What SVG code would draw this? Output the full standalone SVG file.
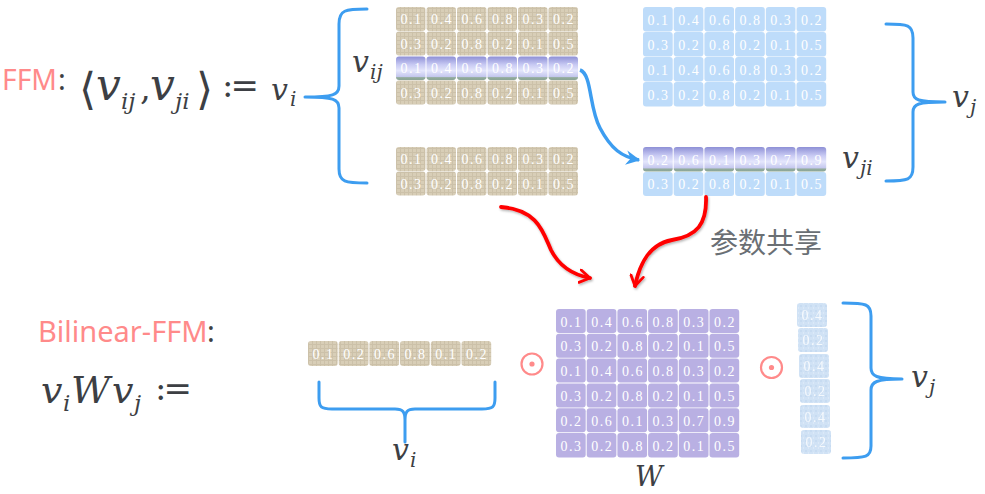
<svg xmlns="http://www.w3.org/2000/svg" width="985" height="494" viewBox="0 0 985 494">
<style>
.t{font-family:"Liberation Serif",serif;font-size:14px;fill:#fff;text-anchor:middle;letter-spacing:1.5px}
.tf{font-family:"Liberation Serif",serif;font-size:14px;fill:#fff;text-anchor:middle;letter-spacing:1.5px;opacity:0.8}
.tan{fill:url(#burlap)}
.lb{fill:#bedcfa}
.pu{fill:#b9b0e3}
.vj{fill:url(#speck)}
.hl{fill:url(#hlg)}
.m{font-family:"DejaVu Serif",serif;font-style:italic;fill:#3d3f44}
.mn{font-family:"DejaVu Serif",serif;fill:#3d3f44}
.ang{font-family:"DejaVu Sans",sans-serif;fill:#3d3f44}
.brace{fill:none;stroke:#3d9df0;stroke-width:3;stroke-linecap:round;stroke-linejoin:round}
.red{fill:none;stroke:#ff0000;stroke-width:3.8;stroke-linecap:round;filter:url(#sh)}
.blue{fill:none;stroke:#3d9df0;stroke-width:3.5}
.odot{fill:none;stroke:#ff8a8a;stroke-width:2.2}
.pink{font-family:"Noto Sans",sans-serif;fill:#ff8a8a}
.dark{font-family:"Noto Sans",sans-serif;fill:#3d3f44}
.dot{fill:#fff}
</style>
<defs>
<pattern id="burlap" width="4" height="4" patternUnits="userSpaceOnUse">
<rect width="4" height="4" fill="#d8ceb7"/>
<path d="M0 0.5H4M0.5 0V4" stroke="#c7bca2" stroke-width="1" opacity="0.7"/>
</pattern>
<pattern id="speck" width="5" height="5" patternUnits="userSpaceOnUse">
<rect width="5" height="5" fill="#d0e2f5"/>
<circle cx="1" cy="1" r="0.8" fill="#bcd3ee"/>
<circle cx="3.5" cy="3" r="0.7" fill="#e2eefa"/>
</pattern>
<linearGradient id="hlg" x1="0" y1="0" x2="0" y2="1">
<stop offset="0" stop-color="#8e90d6"/>
<stop offset="0.35" stop-color="#c8caf3"/>
<stop offset="0.6" stop-color="#e4e6fc"/>
<stop offset="0.85" stop-color="#c5c8ee"/>
<stop offset="0.9" stop-color="#93ab9c"/>
<stop offset="1" stop-color="#8aa596"/>
</linearGradient>
<filter id="sh" x="-20%" y="-20%" width="140%" height="140%">
<feDropShadow dx="1" dy="1.5" stdDeviation="1" flood-color="#000" flood-opacity="0.3"/>
</filter>
<marker id="rh" viewBox="0 0 12 12" refX="9" refY="6" markerWidth="4" markerHeight="4" orient="auto" markerUnits="strokeWidth">
<path d="M1,1 L9,6 L1,11" fill="none" stroke="#ff0000" stroke-width="2.2" stroke-linecap="round" stroke-linejoin="round"/>
</marker>
<marker id="bh" viewBox="0 0 12 12" refX="10" refY="6" markerWidth="4.5" markerHeight="4.5" orient="auto" markerUnits="strokeWidth">
<path d="M0,0.5 L11,6 L0,11.5 L3.5,6 Z" fill="#3d9df0"/>
</marker>
</defs>
<rect width="985" height="494" fill="#fff"/>

<!-- Labels / formulas -->
<g id="ffm-label">
<text class="pink" x="2" y="90" font-size="29" textLength="55" lengthAdjust="spacingAndGlyphs">FFM</text>
<text class="dark" x="58" y="90" font-size="29">:</text>
</g>
<g id="ffm-formula">
<text class="ang" x="79" y="104" font-size="44">⟨</text>
<text class="m" x="96" y="100" font-size="44">v</text>
<text class="m" x="121" y="109" font-size="23">ij</text>
<text class="mn" x="140" y="100" font-size="34">,</text>
<text class="m" x="150" y="100" font-size="44">v</text>
<text class="m" x="175" y="109" font-size="23">ji</text>
<text class="ang" x="196" y="104" font-size="44">⟩</text>
<text class="mn" x="222" y="97" font-size="34" letter-spacing="-3">:=</text>
<text class="m" x="271" y="100" font-size="30">v</text>
<text class="m" x="290" y="106" font-size="20">i</text>
</g>
<g id="bffm-label">
<text class="pink" x="38" y="342" font-size="29">Bilinear-FFM</text>
<text class="dark" x="207" y="342" font-size="29">:</text>
</g>
<g id="bffm-formula">
<text class="m" x="41" y="403" font-size="38">v</text>
<text class="m" x="63" y="411" font-size="23">i</text>
<text class="m" x="71" y="403" font-size="38">W</text>
<text class="m" x="112" y="403" font-size="38">v</text>
<text class="m" x="134" y="411" font-size="23">j</text>
<text class="mn" x="155" y="400" font-size="34" letter-spacing="-3">:=</text>
</g>
<g id="label-vij"><text class="m" x="352" y="72" font-size="30">v</text><text class="m" x="370" y="79" font-size="20">ij</text></g>
<g id="label-vji"><text class="m" x="842" y="168" font-size="30">v</text><text class="m" x="860" y="175" font-size="20">ji</text></g>
<g id="label-vj-top"><text class="m" x="952" y="107" font-size="30">v</text><text class="m" x="970" y="114" font-size="20">j</text></g>
<g id="label-vi-bottom"><text class="m" x="392" y="460" font-size="30">v</text><text class="m" x="410" y="467" font-size="20">i</text></g>
<g id="label-vj-bottom"><text class="m" x="911" y="387" font-size="30">v</text><text class="m" x="929" y="394" font-size="20">j</text></g>
<g id="label-W"><text class="m" x="635" y="486" font-size="27">W</text></g>
<g id="label-share"><text x="710" y="253" font-family="'Noto Sans CJK SC',sans-serif" font-size="28" fill="#6a6f74">参数共享</text></g>

<!-- Braces -->
<g id="braces">
<path class="brace" d="M367,9 C345,9 339,10 339,24 L339,86 C339,95 333,97 305,97 M305,97 C333,97 339,99 339,108 L339,169 C339,182 345,183 367,183"/>
<path class="brace" d="M886,24 C908,24 913,25 913,38 L913,92 C913,100 918,102 945,102 M945,102 C918,102 913,104 913,112 L913,167 C913,180 908,181 886,181"/>
<path class="brace" d="M319,382 L319,398 C319,407 321,409 332,409 L395,409 C403,409 405,412 405,420 L405,442 M405,420 C405,412 407,409 415,409 L482,409 C493,409 495,407 495,398 L495,382"/>
<path class="brace" d="M843,303 C866,303 871,304 871,316 L871,368 C871,376 876,379 902,379 M902,379 C876,379 871,382 871,390 L871,446 C871,457 866,458 843,458"/>
</g>

<!-- Hadamard symbols -->
<g id="odot1"><circle class="odot" cx="532" cy="364" r="10.5"/><circle cx="532" cy="364" r="2.6" fill="#ff8a8a"/></g>
<g id="odot2"><circle class="odot" cx="771.5" cy="367.5" r="10.5"/><circle cx="771.5" cy="367.5" r="2.6" fill="#ff8a8a"/></g>

<!-- Top-left matrix v_i -->
<g id="vi-matrix">
<rect class="tan" x="396" y="7" width="29.5" height="24" rx="3"/><rect class="tan" x="426.5" y="7" width="29.5" height="24" rx="3"/><rect class="tan" x="457" y="7" width="29.5" height="24" rx="3"/><rect class="tan" x="487.5" y="7" width="29.5" height="24" rx="3"/><rect class="tan" x="518" y="7" width="29.5" height="24" rx="3"/><rect class="tan" x="548.5" y="7" width="29.5" height="24" rx="3"/>
<rect class="tan" x="396" y="31.5" width="29.5" height="24" rx="3"/><rect class="tan" x="426.5" y="31.5" width="29.5" height="24" rx="3"/><rect class="tan" x="457" y="31.5" width="29.5" height="24" rx="3"/><rect class="tan" x="487.5" y="31.5" width="29.5" height="24" rx="3"/><rect class="tan" x="518" y="31.5" width="29.5" height="24" rx="3"/><rect class="tan" x="548.5" y="31.5" width="29.5" height="24" rx="3"/>
<rect class="hl" x="396" y="56.5" width="29.5" height="23.5" rx="3"/><rect class="hl" x="426.5" y="56.5" width="29.5" height="23.5" rx="3"/><rect class="hl" x="457" y="56.5" width="29.5" height="23.5" rx="3"/><rect class="hl" x="487.5" y="56.5" width="29.5" height="23.5" rx="3"/><rect class="hl" x="518" y="56.5" width="29.5" height="23.5" rx="3"/><rect class="hl" x="548.5" y="56.5" width="29.5" height="23.5" rx="3"/>
<rect class="tan" x="396" y="80.5" width="29.5" height="24" rx="3"/><rect class="tan" x="426.5" y="80.5" width="29.5" height="24" rx="3"/><rect class="tan" x="457" y="80.5" width="29.5" height="24" rx="3"/><rect class="tan" x="487.5" y="80.5" width="29.5" height="24" rx="3"/><rect class="tan" x="518" y="80.5" width="29.5" height="24" rx="3"/><rect class="tan" x="548.5" y="80.5" width="29.5" height="24" rx="3"/>
<rect class="tan" x="396" y="147" width="29.5" height="24" rx="3"/><rect class="tan" x="426.5" y="147" width="29.5" height="24" rx="3"/><rect class="tan" x="457" y="147" width="29.5" height="24" rx="3"/><rect class="tan" x="487.5" y="147" width="29.5" height="24" rx="3"/><rect class="tan" x="518" y="147" width="29.5" height="24" rx="3"/><rect class="tan" x="548.5" y="147" width="29.5" height="24" rx="3"/>
<rect class="tan" x="396" y="171.5" width="29.5" height="24" rx="3"/><rect class="tan" x="426.5" y="171.5" width="29.5" height="24" rx="3"/><rect class="tan" x="457" y="171.5" width="29.5" height="24" rx="3"/><rect class="tan" x="487.5" y="171.5" width="29.5" height="24" rx="3"/><rect class="tan" x="518" y="171.5" width="29.5" height="24" rx="3"/><rect class="tan" x="548.5" y="171.5" width="29.5" height="24" rx="3"/>
<circle class="dot" cx="426" cy="31.2" r="1.4"/><circle class="dot" cx="456.5" cy="31.2" r="1.4"/><circle class="dot" cx="487" cy="31.2" r="1.4"/><circle class="dot" cx="517.5" cy="31.2" r="1.4"/><circle class="dot" cx="548" cy="31.2" r="1.4"/>
<circle class="dot" cx="426" cy="55.8" r="1.4"/><circle class="dot" cx="456.5" cy="55.8" r="1.4"/><circle class="dot" cx="487" cy="55.8" r="1.4"/><circle class="dot" cx="517.5" cy="55.8" r="1.4"/><circle class="dot" cx="548" cy="55.8" r="1.4"/>
<circle class="dot" cx="426" cy="80.2" r="1.4"/><circle class="dot" cx="456.5" cy="80.2" r="1.4"/><circle class="dot" cx="487" cy="80.2" r="1.4"/><circle class="dot" cx="517.5" cy="80.2" r="1.4"/><circle class="dot" cx="548" cy="80.2" r="1.4"/>
<circle class="dot" cx="426" cy="171.2" r="1.4"/><circle class="dot" cx="456.5" cy="171.2" r="1.4"/><circle class="dot" cx="487" cy="171.2" r="1.4"/><circle class="dot" cx="517.5" cy="171.2" r="1.4"/><circle class="dot" cx="548" cy="171.2" r="1.4"/>
<text class="t" x="411.5" y="24">0.1</text><text class="t" x="442" y="24">0.4</text><text class="t" x="472.5" y="24">0.6</text><text class="t" x="503" y="24">0.8</text><text class="t" x="533.5" y="24">0.3</text><text class="t" x="564" y="24">0.2</text>
<text class="t" x="411.5" y="48.5">0.3</text><text class="t" x="442" y="48.5">0.2</text><text class="t" x="472.5" y="48.5">0.8</text><text class="t" x="503" y="48.5">0.2</text><text class="t" x="533.5" y="48.5">0.1</text><text class="t" x="564" y="48.5">0.5</text>
<text class="t" x="411.5" y="73">0.1</text><text class="t" x="442" y="73">0.4</text><text class="t" x="472.5" y="73">0.6</text><text class="t" x="503" y="73">0.8</text><text class="t" x="533.5" y="73">0.3</text><text class="t" x="564" y="73">0.2</text>
<text class="t" x="411.5" y="97.5">0.3</text><text class="t" x="442" y="97.5">0.2</text><text class="t" x="472.5" y="97.5">0.8</text><text class="t" x="503" y="97.5">0.2</text><text class="t" x="533.5" y="97.5">0.1</text><text class="t" x="564" y="97.5">0.5</text>
<text class="t" x="411.5" y="164">0.1</text><text class="t" x="442" y="164">0.4</text><text class="t" x="472.5" y="164">0.6</text><text class="t" x="503" y="164">0.8</text><text class="t" x="533.5" y="164">0.3</text><text class="t" x="564" y="164">0.2</text>
<text class="t" x="411.5" y="188.5">0.3</text><text class="t" x="442" y="188.5">0.2</text><text class="t" x="472.5" y="188.5">0.8</text><text class="t" x="503" y="188.5">0.2</text><text class="t" x="533.5" y="188.5">0.1</text><text class="t" x="564" y="188.5">0.5</text>
</g>

<!-- Top-right matrix v_j -->
<g id="vj-matrix">
<rect class="lb" x="643" y="7" width="29.7" height="24.5" rx="3"/><rect class="lb" x="673.7" y="7" width="29.7" height="24.5" rx="3"/><rect class="lb" x="704.4" y="7" width="29.7" height="24.5" rx="3"/><rect class="lb" x="735.1" y="7" width="29.7" height="24.5" rx="3"/><rect class="lb" x="765.8" y="7" width="29.7" height="24.5" rx="3"/><rect class="lb" x="796.5" y="7" width="29.7" height="24.5" rx="3"/>
<rect class="lb" x="643" y="32" width="29.7" height="24.5" rx="3"/><rect class="lb" x="673.7" y="32" width="29.7" height="24.5" rx="3"/><rect class="lb" x="704.4" y="32" width="29.7" height="24.5" rx="3"/><rect class="lb" x="735.1" y="32" width="29.7" height="24.5" rx="3"/><rect class="lb" x="765.8" y="32" width="29.7" height="24.5" rx="3"/><rect class="lb" x="796.5" y="32" width="29.7" height="24.5" rx="3"/>
<rect class="lb" x="643" y="57" width="29.7" height="24.5" rx="3"/><rect class="lb" x="673.7" y="57" width="29.7" height="24.5" rx="3"/><rect class="lb" x="704.4" y="57" width="29.7" height="24.5" rx="3"/><rect class="lb" x="735.1" y="57" width="29.7" height="24.5" rx="3"/><rect class="lb" x="765.8" y="57" width="29.7" height="24.5" rx="3"/><rect class="lb" x="796.5" y="57" width="29.7" height="24.5" rx="3"/>
<rect class="lb" x="643" y="82" width="29.7" height="24.5" rx="3"/><rect class="lb" x="673.7" y="82" width="29.7" height="24.5" rx="3"/><rect class="lb" x="704.4" y="82" width="29.7" height="24.5" rx="3"/><rect class="lb" x="735.1" y="82" width="29.7" height="24.5" rx="3"/><rect class="lb" x="765.8" y="82" width="29.7" height="24.5" rx="3"/><rect class="lb" x="796.5" y="82" width="29.7" height="24.5" rx="3"/>
<rect class="hl" x="643" y="147" width="29.7" height="24.5" rx="3"/><rect class="hl" x="673.7" y="147" width="29.7" height="24.5" rx="3"/><rect class="hl" x="704.4" y="147" width="29.7" height="24.5" rx="3"/><rect class="hl" x="735.1" y="147" width="29.7" height="24.5" rx="3"/><rect class="hl" x="765.8" y="147" width="29.7" height="24.5" rx="3"/><rect class="hl" x="796.5" y="147" width="29.7" height="24.5" rx="3"/>
<rect class="lb" x="643" y="172" width="29.7" height="24" rx="3"/><rect class="lb" x="673.7" y="172" width="29.7" height="24" rx="3"/><rect class="lb" x="704.4" y="172" width="29.7" height="24" rx="3"/><rect class="lb" x="735.1" y="172" width="29.7" height="24" rx="3"/><rect class="lb" x="765.8" y="172" width="29.7" height="24" rx="3"/><rect class="lb" x="796.5" y="172" width="29.7" height="24" rx="3"/>
<circle class="dot" cx="673.3" cy="31.7" r="1.4"/><circle class="dot" cx="704" cy="31.7" r="1.4"/><circle class="dot" cx="734.7" cy="31.7" r="1.4"/><circle class="dot" cx="765.4" cy="31.7" r="1.4"/><circle class="dot" cx="796.1" cy="31.7" r="1.4"/>
<circle class="dot" cx="673.3" cy="56.7" r="1.4"/><circle class="dot" cx="704" cy="56.7" r="1.4"/><circle class="dot" cx="734.7" cy="56.7" r="1.4"/><circle class="dot" cx="765.4" cy="56.7" r="1.4"/><circle class="dot" cx="796.1" cy="56.7" r="1.4"/>
<circle class="dot" cx="673.3" cy="81.7" r="1.4"/><circle class="dot" cx="704" cy="81.7" r="1.4"/><circle class="dot" cx="734.7" cy="81.7" r="1.4"/><circle class="dot" cx="765.4" cy="81.7" r="1.4"/><circle class="dot" cx="796.1" cy="81.7" r="1.4"/>
<circle class="dot" cx="673.3" cy="171.7" r="1.4"/><circle class="dot" cx="704" cy="171.7" r="1.4"/><circle class="dot" cx="734.7" cy="171.7" r="1.4"/><circle class="dot" cx="765.4" cy="171.7" r="1.4"/><circle class="dot" cx="796.1" cy="171.7" r="1.4"/>
<text class="t" x="658.5" y="24.5">0.1</text><text class="t" x="689.2" y="24.5">0.4</text><text class="t" x="719.9" y="24.5">0.6</text><text class="t" x="750.6" y="24.5">0.8</text><text class="t" x="781.3" y="24.5">0.3</text><text class="t" x="812" y="24.5">0.2</text>
<text class="t" x="658.5" y="49.5">0.3</text><text class="t" x="689.2" y="49.5">0.2</text><text class="t" x="719.9" y="49.5">0.8</text><text class="t" x="750.6" y="49.5">0.2</text><text class="t" x="781.3" y="49.5">0.1</text><text class="t" x="812" y="49.5">0.5</text>
<text class="t" x="658.5" y="74.5">0.1</text><text class="t" x="689.2" y="74.5">0.4</text><text class="t" x="719.9" y="74.5">0.6</text><text class="t" x="750.6" y="74.5">0.8</text><text class="t" x="781.3" y="74.5">0.3</text><text class="t" x="812" y="74.5">0.2</text>
<text class="t" x="658.5" y="99.5">0.3</text><text class="t" x="689.2" y="99.5">0.2</text><text class="t" x="719.9" y="99.5">0.8</text><text class="t" x="750.6" y="99.5">0.2</text><text class="t" x="781.3" y="99.5">0.1</text><text class="t" x="812" y="99.5">0.5</text>
<text class="t" x="658.5" y="164.5">0.2</text><text class="t" x="689.2" y="164.5">0.6</text><text class="t" x="719.9" y="164.5">0.1</text><text class="t" x="750.6" y="164.5">0.3</text><text class="t" x="781.3" y="164.5">0.7</text><text class="t" x="812" y="164.5">0.9</text>
<text class="t" x="658.5" y="189">0.3</text><text class="t" x="689.2" y="189">0.2</text><text class="t" x="719.9" y="189">0.8</text><text class="t" x="750.6" y="189">0.2</text><text class="t" x="781.3" y="189">0.1</text><text class="t" x="812" y="189">0.5</text>
</g>

<!-- Bottom v_i row -->
<g id="vi-row">
<rect class="tan" x="308" y="341" width="29.7" height="25" rx="3"/><rect class="tan" x="338.7" y="341" width="29.7" height="25" rx="3"/><rect class="tan" x="369.4" y="341" width="29.7" height="25" rx="3"/><rect class="tan" x="400.1" y="341" width="29.7" height="25" rx="3"/><rect class="tan" x="430.8" y="341" width="29.7" height="25" rx="3"/><rect class="tan" x="461.5" y="341" width="29.7" height="25" rx="3"/>
<text class="t" x="323.5" y="358.5">0.1</text><text class="t" x="354.2" y="358.5">0.2</text><text class="t" x="384.9" y="358.5">0.6</text><text class="t" x="415.6" y="358.5">0.8</text><text class="t" x="446.3" y="358.5">0.1</text><text class="t" x="477" y="358.5">0.2</text>
</g>

<!-- W matrix -->
<g id="W-matrix">
<rect class="pu" x="556" y="309" width="29.7" height="24" rx="3"/><rect class="pu" x="586.7" y="309" width="29.7" height="24" rx="3"/><rect class="pu" x="617.4" y="309" width="29.7" height="24" rx="3"/><rect class="pu" x="648.1" y="309" width="29.7" height="24" rx="3"/><rect class="pu" x="678.8" y="309" width="29.7" height="24" rx="3"/><rect class="pu" x="709.5" y="309" width="29.7" height="24" rx="3"/>
<rect class="pu" x="556" y="333.8" width="29.7" height="24" rx="3"/><rect class="pu" x="586.7" y="333.8" width="29.7" height="24" rx="3"/><rect class="pu" x="617.4" y="333.8" width="29.7" height="24" rx="3"/><rect class="pu" x="648.1" y="333.8" width="29.7" height="24" rx="3"/><rect class="pu" x="678.8" y="333.8" width="29.7" height="24" rx="3"/><rect class="pu" x="709.5" y="333.8" width="29.7" height="24" rx="3"/>
<rect class="pu" x="556" y="358.6" width="29.7" height="24" rx="3"/><rect class="pu" x="586.7" y="358.6" width="29.7" height="24" rx="3"/><rect class="pu" x="617.4" y="358.6" width="29.7" height="24" rx="3"/><rect class="pu" x="648.1" y="358.6" width="29.7" height="24" rx="3"/><rect class="pu" x="678.8" y="358.6" width="29.7" height="24" rx="3"/><rect class="pu" x="709.5" y="358.6" width="29.7" height="24" rx="3"/>
<rect class="pu" x="556" y="383.4" width="29.7" height="24" rx="3"/><rect class="pu" x="586.7" y="383.4" width="29.7" height="24" rx="3"/><rect class="pu" x="617.4" y="383.4" width="29.7" height="24" rx="3"/><rect class="pu" x="648.1" y="383.4" width="29.7" height="24" rx="3"/><rect class="pu" x="678.8" y="383.4" width="29.7" height="24" rx="3"/><rect class="pu" x="709.5" y="383.4" width="29.7" height="24" rx="3"/>
<rect class="pu" x="556" y="408.2" width="29.7" height="24" rx="3"/><rect class="pu" x="586.7" y="408.2" width="29.7" height="24" rx="3"/><rect class="pu" x="617.4" y="408.2" width="29.7" height="24" rx="3"/><rect class="pu" x="648.1" y="408.2" width="29.7" height="24" rx="3"/><rect class="pu" x="678.8" y="408.2" width="29.7" height="24" rx="3"/><rect class="pu" x="709.5" y="408.2" width="29.7" height="24" rx="3"/>
<rect class="pu" x="556" y="433" width="29.7" height="24.5" rx="3"/><rect class="pu" x="586.7" y="433" width="29.7" height="24.5" rx="3"/><rect class="pu" x="617.4" y="433" width="29.7" height="24.5" rx="3"/><rect class="pu" x="648.1" y="433" width="29.7" height="24.5" rx="3"/><rect class="pu" x="678.8" y="433" width="29.7" height="24.5" rx="3"/><rect class="pu" x="709.5" y="433" width="29.7" height="24.5" rx="3"/>
<circle class="dot" cx="586.3" cy="333.4" r="1.4"/><circle class="dot" cx="617" cy="333.4" r="1.4"/><circle class="dot" cx="647.7" cy="333.4" r="1.4"/><circle class="dot" cx="678.4" cy="333.4" r="1.4"/><circle class="dot" cx="709.1" cy="333.4" r="1.4"/>
<circle class="dot" cx="586.3" cy="358.2" r="1.4"/><circle class="dot" cx="617" cy="358.2" r="1.4"/><circle class="dot" cx="647.7" cy="358.2" r="1.4"/><circle class="dot" cx="678.4" cy="358.2" r="1.4"/><circle class="dot" cx="709.1" cy="358.2" r="1.4"/>
<circle class="dot" cx="586.3" cy="383" r="1.4"/><circle class="dot" cx="617" cy="383" r="1.4"/><circle class="dot" cx="647.7" cy="383" r="1.4"/><circle class="dot" cx="678.4" cy="383" r="1.4"/><circle class="dot" cx="709.1" cy="383" r="1.4"/>
<circle class="dot" cx="586.3" cy="407.8" r="1.4"/><circle class="dot" cx="617" cy="407.8" r="1.4"/><circle class="dot" cx="647.7" cy="407.8" r="1.4"/><circle class="dot" cx="678.4" cy="407.8" r="1.4"/><circle class="dot" cx="709.1" cy="407.8" r="1.4"/>
<circle class="dot" cx="586.3" cy="432.6" r="1.4"/><circle class="dot" cx="617" cy="432.6" r="1.4"/><circle class="dot" cx="647.7" cy="432.6" r="1.4"/><circle class="dot" cx="678.4" cy="432.6" r="1.4"/><circle class="dot" cx="709.1" cy="432.6" r="1.4"/>
<text class="t" x="571.5" y="326.5">0.1</text><text class="t" x="602.2" y="326.5">0.4</text><text class="t" x="632.9" y="326.5">0.6</text><text class="t" x="663.6" y="326.5">0.8</text><text class="t" x="694.3" y="326.5">0.3</text><text class="t" x="725" y="326.5">0.2</text>
<text class="t" x="571.5" y="351.3">0.3</text><text class="t" x="602.2" y="351.3">0.2</text><text class="t" x="632.9" y="351.3">0.8</text><text class="t" x="663.6" y="351.3">0.2</text><text class="t" x="694.3" y="351.3">0.1</text><text class="t" x="725" y="351.3">0.5</text>
<text class="t" x="571.5" y="376.1">0.1</text><text class="t" x="602.2" y="376.1">0.4</text><text class="t" x="632.9" y="376.1">0.6</text><text class="t" x="663.6" y="376.1">0.8</text><text class="t" x="694.3" y="376.1">0.3</text><text class="t" x="725" y="376.1">0.2</text>
<text class="t" x="571.5" y="400.9">0.3</text><text class="t" x="602.2" y="400.9">0.2</text><text class="t" x="632.9" y="400.9">0.8</text><text class="t" x="663.6" y="400.9">0.2</text><text class="t" x="694.3" y="400.9">0.1</text><text class="t" x="725" y="400.9">0.5</text>
<text class="t" x="571.5" y="425.7">0.2</text><text class="t" x="602.2" y="425.7">0.6</text><text class="t" x="632.9" y="425.7">0.1</text><text class="t" x="663.6" y="425.7">0.3</text><text class="t" x="694.3" y="425.7">0.7</text><text class="t" x="725" y="425.7">0.9</text>
<text class="t" x="571.5" y="450.5">0.3</text><text class="t" x="602.2" y="450.5">0.2</text><text class="t" x="632.9" y="450.5">0.8</text><text class="t" x="663.6" y="450.5">0.2</text><text class="t" x="694.3" y="450.5">0.1</text><text class="t" x="725" y="450.5">0.5</text>
</g>

<!-- v_j column -->
<g id="vj-column">
<rect class="vj" x="797" y="303" width="30" height="24" rx="3"/><rect class="vj" x="798" y="328" width="30" height="24" rx="3"/><rect class="vj" x="799" y="354" width="30" height="24" rx="3"/><rect class="vj" x="800" y="379" width="30" height="24" rx="3"/><rect class="vj" x="800" y="405" width="30" height="23" rx="3"/><rect class="vj" x="801" y="430" width="30" height="24" rx="3"/>
<text class="tf" x="812.5" y="320">0.4</text><text class="tf" x="813.5" y="345">0.2</text><text class="tf" x="814.5" y="371">0.4</text><text class="tf" x="815.5" y="396">0.2</text><text class="tf" x="815.5" y="421.5">0.4</text><text class="tf" x="816.5" y="447">0.2</text>
</g>

<!-- Connectors -->
<g id="connectors">
<path class="blue" d="M580,70 C592,74 589,108 600,128 C611,149 622,157 639,160" marker-end="url(#bh)"/>
<path class="red" d="M501,207 C538,210 543,232 551,250 C560,268 574,275 590,278" marker-end="url(#rh)"/>
<path class="red" d="M706,197 C707,224 697,236 672,240 C650,244 640,262 635,286" marker-end="url(#rh)"/>
</g>
</svg>
